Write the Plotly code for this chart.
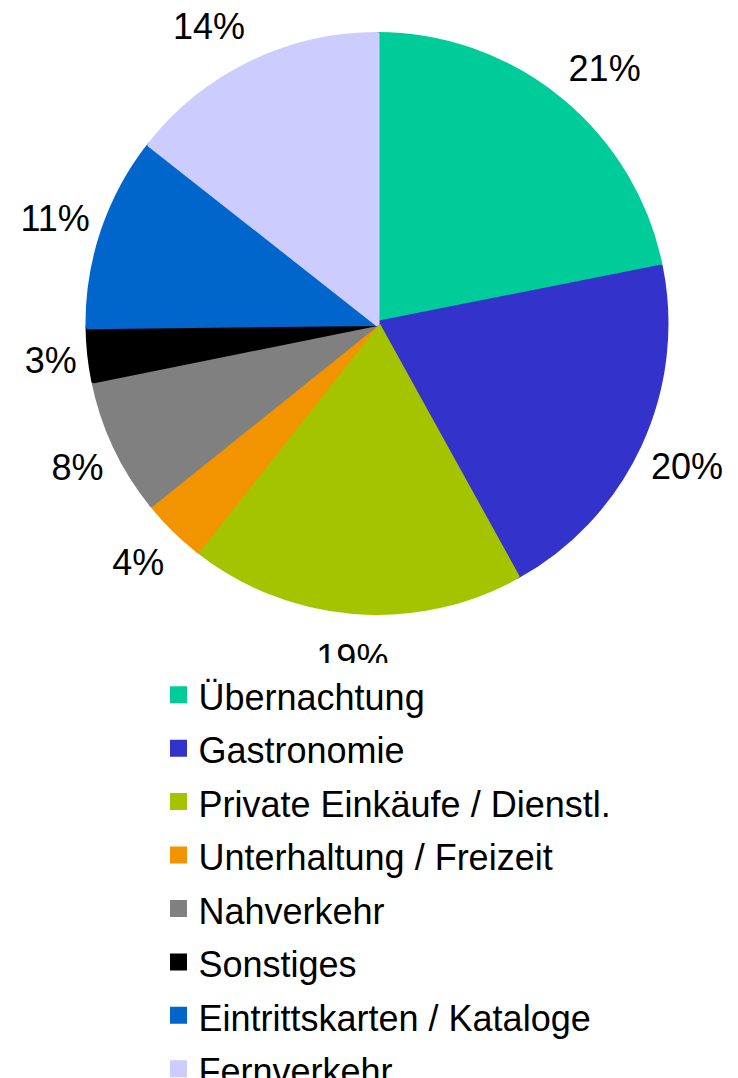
import math
import plotly.graph_objects as go

# ---- data ----
categories = ["Übernachtung", "Gastronomie", "Private Einkäufe / Dienstl.",
              "Unterhaltung / Freizeit", "Nahverkehr", "Sonstiges",
              "Eintrittskarten / Kataloge", "Fernverkehr"]
shares = [21.9, 20.1, 18.7, 3.6, 7.6, 3.0, 10.8, 14.4]
share_labels = ["21%", "20%", "19%", "4%", "8%", "3%", "11%", "14%"]
colors = ["#00CC99", "#3333CC", "#A5C400", "#F29400",
          "#808080", "#000000", "#0066CC", "#CCCCFF"]

# ---- layout constants ----
W, H = 738, 1078
cx, cy, R = 369.0, 315.5, 289.0   # pie centre/radius in px
lab_rx, lab_ry = 302.0, 333.0      # label anchor ellipse
lab_dy = 6.0                       # vertical nudge of labels
LABEL_SIZE = 36
FONT = "Liberation Sans, Arial, sans-serif"


def text_w(s):
    # approximate width of a label in Liberation Sans (digits 0.556em, % 0.889em)
    return LABEL_SIZE * sum(0.889 if ch == "%" else 0.556 for ch in s)


# label positions derived from the slice mid-angles (clockwise from 12 o'clock)
total = sum(shares)
lx, ly = [], []
cum = 0.0
for v, lab in zip(shares, share_labels):
    mid = (cum + v / 2) / total * 2 * math.pi
    s, c = math.sin(mid), math.cos(mid)
    side = 0 if abs(s) < 0.3 else (1 if s > 0 else -1)
    lx.append(cx + lab_rx * s + side * text_w(lab) / 2)
    ly.append(cy - lab_ry * c + lab_dy)
    cum += v

fig = go.Figure()
fig.add_trace(go.Pie(
    labels=[f'<span style="font-size:36px">{c}</span>' for c in categories],
    values=shares,
    sort=False,
    direction="clockwise",
    rotation=0,
    marker=dict(colors=colors, line=dict(color=colors, width=5)),
    textinfo="none",
    hoverinfo="label+percent",
    domain=dict(x=[(cx - R) / W, (cx + R) / W],
                y=[1 - (cy + R) / H, 1 - (cy - R) / H]),
))
fig.add_trace(go.Scatter(
    x=lx, y=ly, mode="text", text=share_labels,
    textposition="middle center",
    textfont=dict(family=FONT, size=LABEL_SIZE, color="black"),
    showlegend=False, hoverinfo="skip",
))

fig.update_layout(
    width=W, height=H,
    margin=dict(l=0, r=0, t=0, b=0, autoexpand=False),
    paper_bgcolor="white", plot_bgcolor="white",
    xaxis=dict(range=[0, W], visible=False, fixedrange=True),
    yaxis=dict(range=[H, 0], visible=False, fixedrange=True),
    font=dict(family=FONT, color="black"),
    legend=dict(
        x=150.5 / W, xanchor="left",
        y=1 - 655 / H, yanchor="top",
        bgcolor="white", borderwidth=0,
        font=dict(family=FONT, size=38.8, color="black"),
    ),
    showlegend=True,
)

fig.write_html("out.html")
